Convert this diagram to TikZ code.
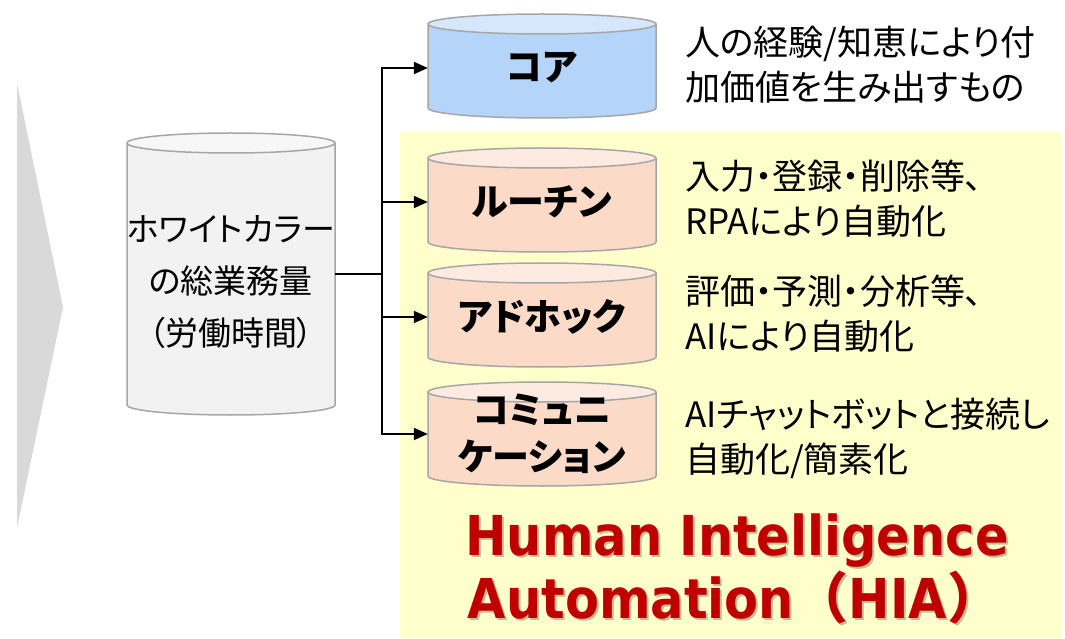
\documentclass[tikz,border=0pt]{standalone}
\usepackage{fontspec}
\usetikzlibrary{arrows.meta,calc}
\newfontfamily\jp{Noto Sans CJK JP}[RawFeature=+palt]
\newfontfamily\jpfull{Noto Sans CJK JP}
\newfontfamily\hiafont{DejaVu Sans}[FakeStretch=0.9]

\definecolor{arrowgray}{HTML}{D9D9D9}
\definecolor{hiabg}{HTML}{FFFFCC}
\definecolor{cylgray}{HTML}{A6A6A6}
\definecolor{greybody}{HTML}{F2F2F2}
\definecolor{greytop}{HTML}{F7F7F7}
\definecolor{bluebody}{HTML}{B4D4FA}
\definecolor{bluetop}{HTML}{D6E7FC}
\definecolor{peachbody}{HTML}{FBDBC7}
\definecolor{peachtop}{HTML}{FDEAE0}
\definecolor{hiared}{HTML}{C00000}

% cylinder: #1 centre x, #2 top edge, #3 bottom edge, #4 x radius, #5 body colour, #6 lid colour
\newcommand\cylshape[6]{%
  \pgfmathsetmacro\cylT{#2-10}%
  \pgfmathsetmacro\cylB{#3+10}%
  \fill[#5] (#1-#4,\cylT) -- (#1-#4,\cylB)
    arc[start angle=180,end angle=360,x radius=#4,y radius=10] -- (#1+#4,\cylT) -- cycle;
  \draw[cylline] (#1-#4,\cylT) -- (#1-#4,\cylB)
    arc[start angle=180,end angle=360,x radius=#4,y radius=10] -- (#1+#4,\cylT);
  \filldraw[cylline,fill=#6] (#1,\cylT) ellipse[x radius=#4,y radius=10];
}

% shadowed headline line: #1 name, #2 position, #3 text
\newcommand\hialine[3]{%
  \node[hiatext,text=black,opacity=0.25,anchor=base] (#1shadow) at ($(#2)+(2,-2)$) {#3};
  \node[hiatext,anchor=base] (#1) at (#2) {#3};
}

\begin{document}
\begin{tikzpicture}[x=1pt,y=1pt,
  cylline/.style={draw=cylgray,line width=1.5pt},
  bodybox/.style={inner sep=0pt,align=center},
  cyllabel/.style={bodybox,font=\fontsize{37}{47}\selectfont\jp\bfseries},
  note/.style={inner sep=0pt,anchor=west,align=left,font=\fontsize{35}{45}\selectfont\jp},
  hiatext/.style={inner sep=0pt,text=hiared,font=\fontsize{55}{63}\selectfont\hiafont\bfseries},
  conn/.style={line width=2pt,black},
  arr/.style={conn,-{Triangle[length=14pt,width=12pt]}}]
\useasboundingbox (0,0) rectangle (1065,638);

% big chevron on the left
\fill[arrowgray] (17,555) -- (63,331) -- (17,110) -- cycle;

% HIA area
\fill[hiabg] (400,0) rectangle (1062,506);

% cylinders
\cylshape{231}{505}{223}{104}{greybody}{greytop}
\cylshape{542}{624}{520}{114}{bluebody}{bluetop}
\cylshape{542}{490}{386}{114}{peachbody}{peachtop}
\cylshape{542}{375}{271}{114}{peachbody}{peachtop}
\cylshape{542}{256}{152}{114}{peachbody}{peachtop}

% cylinder bodies with their labels
\node[bodybox,minimum width=208pt,minimum height=282pt] (total) at (231,364) {};
\node[font=\fontsize{33}{52}\selectfont\jp,align=center,inner sep=0pt] (totaltext) at (231,356)
  {ホワイトカラー\\の総業務量\\（労働時間）};
\node[cyllabel,minimum width=228pt,minimum height=104pt] (core) at (542,570) {コア};
\node[cyllabel,minimum width=228pt,minimum height=104pt] (routine) at (542,436) {ルーチン};
\node[cyllabel,minimum width=228pt,minimum height=104pt] (adhoc) at (542,321) {アドホック};
\node[cyllabel,minimum width=228pt,minimum height=104pt] (comm) at (542,204) {コミュニ\\ケーション};

% descriptions
\node[note] (corenote) at (685,573) {人の経験/知恵により付\\加価値を生み出すもの};
\node[note] (routinenote) at (685,439) {入力・登録・削除等、\\RPAにより自動化};
\node[note] (adhocnote) at (685,324) {評価・予測・分析等、\\AIにより自動化};
\node[note] (commnote) at (685,200) {AIチャットボットと接続し\\自動化/簡素化};

% connectors
\coordinate (split) at (382,364);
\draw[conn] (total.east) -- (split);
\draw[arr] (split) |- (core.west);
\draw[arr] (split) |- (routine.west);
\draw[arr] (split) |- (adhoc.west);
\draw[arr] (split) |- (comm.west);

% headline
\coordinate (hiaA) at (737,83);
\coordinate (hiaB) at (735,20);
\hialine{hiaone}{hiaA}{Human Intelligence}
\hialine{hiatwo}{hiaB}{Automation{\jpfull\bfseries（}HIA{\jpfull\bfseries）}}
\end{tikzpicture}
\end{document}
